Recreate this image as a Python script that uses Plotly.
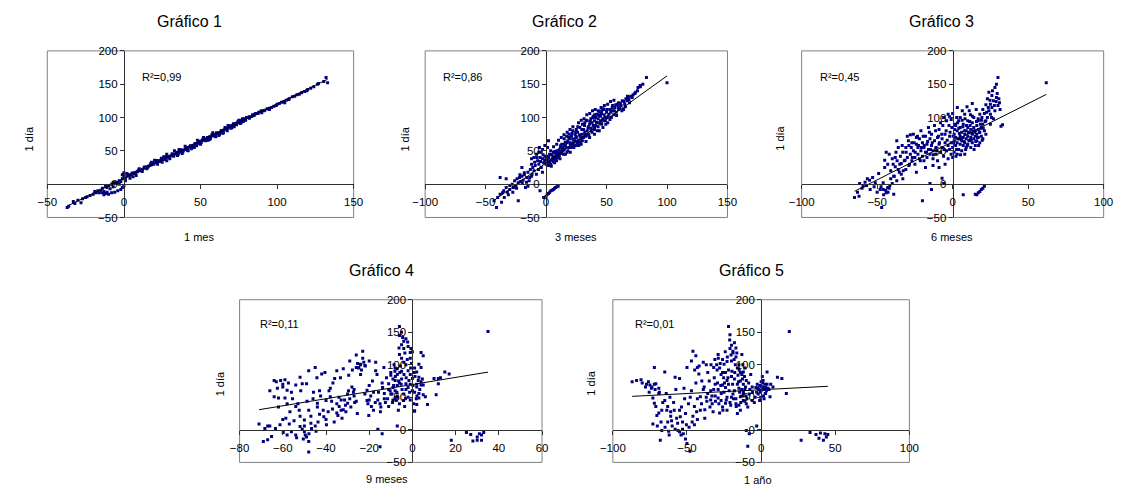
import plotly.graph_objects as go

# ---------------- DATA ----------------
titles = ["Gráfico 1", "Gráfico 2", "Gráfico 3", "Gráfico 4", "Gráfico 5"]
x_titles = ["1 mes", "3 meses", "6 meses", "9 meses", "1 año"]
y_title = "1 día"
r2_labels = ["0,99", "0,86", "0,45", "0,11", "0,01"]
x_ranges = [[-50, 150], [-100, 150], [-100, 100], [-80, 60], [-100, 100]]
x_ticks = [[-50, 0, 50, 100, 150], [-100, -50, 0, 50, 100, 150], [-100, -50, 0, 50, 100],
           [-80, -60, -40, -20, 0, 20, 40, 60], [-100, -50, 0, 50, 100]]
y_range = [-50, 200]
y_ticks = [-50, 0, 50, 100, 150, 200]
trend_slope = [1.12, 1.307, 1.145, 0.545, 0.117]
trend_intercept = [8.5, 31.8, 63.7, 69.7, 61.7]

g1_points = [
    (-37, -35), (-33, -26), (-30, -24), (-28, -28), (-25, -20), (-22, -17), (-20, -15), (-18, -13),
    (-17, -10), (-15, -9), (-14, -6), (-13, -11), (-12, -3), (-11, -5), (-10, -2), (-9, -7), (-8, 0),
    (-7, -4), (-6, 2), (-5, 1), (-4, 3), (-3, 5), (-2, 4), (-1, 8), (0, 10), (0, 14), (1, 9), (-1, 14),
    (-14, -13), (-13, -16), (-12, -14), (-10, -15), (-8, -13), (-6, -12), (-4, -10), (-2, -8), (-1, -5),
    (0, -3), (-11, -12),
    (2, 12), (3, 14), (4, 13), (5, 15), (6, 16), (7, 17), (8, 18), (9, 19), (10, 20), (11, 21), (12, 22),
    (13, 24), (14, 25), (15, 26), (16, 27), (17, 28), (18, 29), (19, 31), (20, 32), (21, 33), (22, 34),
    (23, 35), (24, 36), (25, 37), (26, 38), (27, 39), (28, 40), (29, 40), (30, 42), (31, 43), (32, 44),
    (33, 45), (34, 46), (35, 47), (36, 48), (37, 49), (38, 50), (39, 51), (40, 52), (41, 53), (42, 55),
    (43, 56), (44, 57), (45, 58), (46, 59), (47, 60), (48, 61), (49, 63), (50, 64), (51, 65), (52, 66),
    (53, 67), (54, 68), (55, 70), (56, 71), (57, 72), (58, 73), (59, 74), (60, 75), (61, 76), (62, 77),
    (63, 78), (64, 80), (65, 81), (66, 82), (67, 83), (68, 84), (69, 86), (70, 87), (71, 88), (72, 90),
    (73, 91), (74, 92), (75, 93), (76, 95), (77, 96), (78, 97), (79, 98), (80, 100), (82, 101), (84, 104),
    (86, 106), (88, 108), (90, 110), (92, 111), (95, 114), (98, 117), (100, 120), (103, 123), (106, 126),
    (110, 131), (113, 134), (116, 137), (120, 142), (124, 146), (127, 151), (132, 160), (133, 152),
    (20, 36), (22, 30), (25, 33), (28, 45), (30, 38), (35, 43), (40, 57), (42, 50), (45, 55), (48, 66),
    (50, 60), (55, 66), (58, 77), (60, 71), (65, 77), (68, 88), (70, 84), (75, 96), (78, 94), (85, 103),
    (90, 107), (28, 35), (33, 50), (38, 46), (44, 53), (52, 70), (62, 73), (72, 86), (15, 23), (18, 33),
    (10, 23), (12, 19), (26, 41), (36, 52), (46, 55), (56, 67), (66, 85), (76, 91), (82, 99), (95, 112),
    (105, 122), (108, 128), (118, 139), (122, 144),
    (3.5, 13.5), (5.5, 16.8), (7.5, 16.5), (9.5, 21), (11.5, 20.5), (13.5, 25.8), (15.5, 25), (17.5, 30.5),
    (19.5, 30), (21.5, 35.5), (23.5, 34), (24.5, 39), (26.5, 37), (27.5, 41.5), (29.5, 41), (31.5, 45.5),
    (32.5, 42), (34.5, 48), (35.5, 45), (37.5, 51.5), (38.5, 48), (40.5, 54.5), (41.5, 51), (43.5, 57.5),
    (44.5, 54.5), (46.5, 61), (47.5, 57.5), (49.5, 64.5), (50.5, 62), (51.5, 67.5), (53.5, 65), (54.5, 70),
    (56.5, 68.5), (57.5, 74), (59.5, 71.5), (60.5, 77), (62.5, 75), (63.5, 80), (64.5, 76.5), (66.5, 83.5),
    (67.5, 80), (69.5, 87.5), (70.5, 85), (71.5, 90.5), (73.5, 89), (74.5, 94), (76.5, 92), (77.5, 98),
    (79.5, 96), (81.5, 100.5), (83.5, 101.5), (85.5, 105), (87.5, 106), (89.5, 109.5), (91.5, 110),
    (93.5, 113), (96.5, 115), (99.5, 118), (101.5, 121), (104.5, 124), (107.5, 127), (111.5, 132),
    (114.5, 135), (119.5, 140), (126.5, 150), (130.5, 154), (-36, -33), (-32, -29), (-27, -22), (-24, -19),
    (-19, -11), (-16, -13), (-7, 2), (-3, 0), (1, 5), (0, 17), (2, 16), (4, 9), (6, 11), (8, 13),
]

g2_points = [
    (-41, -35), (-43, -25), (-40, -20), (-38, -15), (-36, -13), (-35, -10), (-33, -5), (-32, -12),
    (-30, -8), (-30, -2), (-28, 0), (-27, -5), (-26, 5), (-25, -3), (-24, 8), (-23, 2), (-22, 10),
    (-21, 4), (-20, 12), (-19, 6), (-18, 14), (-17, -5), (-16, 10), (-15, 18), (-14, 5), (-13, 22),
    (-12, 12), (-11, 25), (-10, 20), (-9, 28), (-8, 15), (-7, 35), (-6, 30), (-5, 40), (-4, 25),
    (-3, 38), (-2, 32), (-1, 42), (-8, 45), (-10, 40), (-12, 38), (-6, 48), (-15, -3), (-5, -10),
    (-38, 10), (-33, 8), (-23, -25), (-18, 17), (-20, 25), (-12, 30), (-4, 48), (-3, 18), (-1, 35),
    (2, 65), (-1, 58),
    (0, 30), (0, 38), (1, 35), (1, 42), (2, 28), (2, 40), (3, 33), (3, 45), (4, 36), (4, 30), (5, 38),
    (5, 44), (6, 34), (6, 48), (7, 40), (7, 32), (8, 45), (8, 38), (9, 42), (9, 50), (10, 40), (10, 47),
    (11, 44), (11, 52), (12, 48), (12, 56), (13, 46), (13, 60), (14, 50), (14, 55),
    (15, 52), (15, 60), (15, 68), (16, 45), (16, 58), (17, 62), (17, 72), (18, 50), (18, 65), (19, 55),
    (19, 75), (20, 60), (20, 68), (20, 48), (21, 58), (21, 72), (22, 62), (22, 80), (23, 55), (23, 68),
    (24, 65), (24, 75), (25, 58), (25, 70), (25, 82), (26, 62), (26, 78), (27, 66), (27, 58), (28, 72),
    (28, 85), (29, 68), (29, 60), (30, 75), (30, 90), (30, 65),
    (31, 70), (31, 82), (32, 78), (32, 92), (33, 72), (33, 64), (34, 80), (34, 95), (35, 75), (35, 86),
    (36, 90), (36, 70), (37, 84), (37, 98), (38, 78), (38, 92), (39, 88), (39, 102), (40, 82), (40, 95),
    (40, 75), (41, 100), (41, 88), (42, 92), (42, 105), (43, 86), (43, 98), (44, 108), (44, 80), (45, 95),
    (45, 102),
    (46, 90), (46, 110), (47, 98), (47, 85), (48, 104), (48, 112), (49, 95), (50, 100), (50, 108), (51, 92),
    (52, 105), (53, 112), (54, 100), (55, 110), (55, 118), (56, 104), (57, 115), (58, 108), (59, 120),
    (60, 112), (60, 122),
    (61, 115), (62, 118), (63, 125), (64, 112), (65, 120), (66, 128), (67, 125), (68, 130), (69, 122),
    (70, 132), (72, 134), (74, 138), (76, 145), (78, 146), (80, 150), (83, 160), (100, 152),
    (0, -18), (1, -15), (2, -14), (3, -12), (4, -10), (5, -9), (6, -8), (7, -6), (8, -5), (9, -4),
    (10, -3), (-2, -20),
    (0.5, 33), (1.7, 39), (2.4, 31), (3.6, 44), (4.3, 27), (5.8, 41), (6.5, 37), (7.2, 49), (8.6, 35),
    (9.3, 46), (10.8, 43), (11.5, 38), (12.2, 58), (13.7, 52), (14.4, 45), (15.9, 63), (16.6, 55),
    (17.3, 48), (18.8, 70), (19.5, 62), (20.7, 55), (21.4, 76), (22.6, 67), (23.3, 59), (24.8, 72),
    (25.5, 64), (26.2, 86), (27.7, 74), (28.4, 63), (29.6, 82), (30.3, 70), (31.8, 88), (32.5, 75),
    (33.2, 96), (34.7, 84), (35.4, 73), (36.6, 94), (37.3, 80), (38.8, 100), (39.5, 84), (40.2, 104),
    (41.7, 93), (42.4, 80), (43.6, 103), (44.3, 92), (45.8, 106), (46.5, 96), (47.2, 113), (48.7, 100),
    (49.4, 90), (50.6, 112), (51.3, 102), (52.8, 97), (53.5, 108), (54.7, 115), (56.4, 110), (57.6, 119),
    (58.3, 103), (59.8, 116), (61.5, 121), (62.7, 110), (64.4, 124), (65.6, 116), (67.3, 132), (68.5, 127),
    (71.2, 130), (73.4, 136), (75.6, 140), (77.8, 148), (-0.8, 36), (-2.5, 44), (-4.6, 34), (-6.3, 22),
    (-7.7, 40), (-9.4, 33), (-11.6, 15), (-13.5, 10), (-16.2, 3), (-19.7, 1), (-21.6, 14), (-24.4, -6),
    (-27.5, -12), (-31.2, -16), (-34.6, -20), (-36.8, -27), (-2.9, 52), (-5.5, 55), (1.2, 55), (3.8, 50),
    (6.2, 56), (8.8, 60), (10.3, 66), (12.6, 70), (14.8, 74), (17.5, 78), (19.8, 82), (22.2, 86),
    (24.5, 78), (26.8, 92), (29.1, 96), (31.4, 98), (33.7, 104), (36.1, 106), (38.4, 110), (40.7, 112),
    (43.2, 110), (45.5, 115), (48.2, 118), (50.9, 120), (53.3, 124), (56.1, 126),
]

g3_points = [
    (-65, -20), (-63, -12), (-62, -18), (-60, -6), (-58, 3), (-57, -2), (-55, 6), (-53, 10), (-52, -4),
    (-50, -12), (-49, 16), (-48, -8), (-47, -35), (-46, -8), (-46, 2), (-45, 36), (-45, 25), (-44, -13),
    (-44, 48), (-43, -5), (-43, 30), (-42, 45), (-42, -6), (-41, 20), (-41, 8), (-40, 1), (-40, 38),
    (-39, -15), (-39, 12), (-38, 40), (-38, 26), (-37, 65), (-37, 5), (-36, 55), (-36, 22),
    (-35, 30), (-34, 31), (-34, 15), (-33, 48), (-33, 8), (-32, 35), (-31, 55), (-31, 22), (-30, 72),
    (-30, 40), (-29, 28), (-29, 58), (-28, 45), (-28, 74), (-27, 35), (-27, 62), (-26, 75), (-26, 50),
    (-25, 40), (-25, 30), (-24, 60), (-24, 70), (-23, 45), (-23, 55), (-22, 38), (-22, 68), (-21, 50),
    (-21, 80), (-20, -25), (-20, 42), (-20, 62),
    (-19, 55), (-19, 35), (-18, 72), (-18, 48), (-17, 60), (-17, 40), (-16, 85), (-16, 52), (-15, 1),
    (-15, 45), (-15, 68), (-14, -8), (-14, 58), (-14, 75), (-13, 50), (-13, 38), (-12, 65), (-12, 88),
    (-11, 45), (-11, 55), (-10, 70), (-10, 35), (-9, 60), (-9, 82), (-8, 48), (-8, 92), (-7, 9), (-7, 55),
    (-7, 68), (-6, 1), (-6, 100), (-6, 42), (-5, 62), (-5, 75), (-4, 50), (-4, 95), (-3, 58), (-3, 105),
    (-3, 38), (-2, 72), (-2, 101), (-1, 97), (-1, 45), (-1, 62),
    (0, 55), (0, 106), (0, 40), (1, 65), (1, 75), (1, 48), (2, 70), (2, 58), (2, 88), (3, 62), (3, 80),
    (3, 45), (4, 68), (4, 95), (4, 52), (5, 72), (5, 60), (5, 85), (5, 100), (6, 65), (6, 78), (6, 50),
    (7, -16), (7, 70), (7, 90), (7, 58), (8, 75), (8, 62), (8, 105), (8, 45), (9, 80), (9, 68), (9, 55),
    (10, 72), (10, 95), (10, 60), (10, 85), (11, 78), (11, 65), (11, 110), (12, 70), (12, 82), (12, 55),
    (13, 121), (13, 75), (13, 92), (13, 62), (14, 68), (14, 85), (14, 100), (15, 72), (15, 80), (15, 58),
    (15, -15), (16, -16), (16, 88), (16, 65), (16, 75), (17, -13), (17, 70), (17, 95), (17, 82), (18, -11),
    (18, 78), (18, 62), (18, 105), (19, -8), (19, 85), (19, 72), (20, -6), (20, 90), (20, 68), (20, 112),
    (21, -3), (21, 106), (21, 80), (22, 95), (22, 119), (22, 75),
    (23, 128), (23, 100), (24, 138), (24, 110), (25, 105), (25, 120), (25, 90), (26, 133), (26, 115),
    (27, 125), (27, 98), (28, 145), (28, 110), (29, 130), (29, 150), (30, 160), (30, 118), (31, 122),
    (32, 87), (33, 89), (62, 152),
    (0.7, 62), (1.4, 82), (2.6, 52), (3.3, 92), (4.5, 76), (5.2, 44), (6.8, 86), (7.5, 64), (8.2, 98),
    (9.7, 58), (10.4, 77), (11.6, 88), (12.3, 66), (13.5, 80), (14.2, 52), (15.8, 94), (16.5, 70),
    (17.7, 78), (18.4, 90), (19.6, 66), (20.3, 84), (21.5, 94), (0.3, 72), (1.9, 90), (2.2, 42), (3.8, 68),
    (4.1, 84), (5.7, 67), (6.3, 96), (7.9, 80), (8.6, 52), (9.2, 88), (10.8, 66), (11.3, 94), (12.9, 76),
    (13.1, 102), (14.7, 78), (15.3, 64), (16.9, 98), (17.2, 58), (18.8, 84), (19.1, 96), (3.1, 115),
    (6.4, 110), (9.5, 116), (15.6, 112), (19.4, 100), (11.8, 104), (2.7, 100), (-0.5, 85), (-1.7, 78),
    (-2.4, 88), (-3.6, 66), (-4.3, 80), (-5.8, 52), (-6.5, 88), (-7.2, 75), (-8.7, 62), (-9.4, 72),
    (-10.6, 50), (-11.3, 80), (-12.8, 44), (-13.5, 62), (-14.7, 52), (-15.4, 78), (-16.6, 64), (-17.3, 48),
    (-18.8, 58), (-19.5, 72), (-20.7, 55), (-21.4, 35), (-22.6, 58), (-23.3, 72), (-24.8, 48), (-25.5, 62),
    (-26.7, 40), (-27.4, 55), (-28.6, 30), (-29.3, 65), (-30.8, 48), (-31.5, 36), (-32.7, 20), (-33.4, 58),
    (-34.6, 42), (-35.3, 18), (-36.8, 35), (-37.5, 48), (-38.7, 12), (-39.4, 30), (-41.6, -2), (-42.8, -12),
    (-44.3, -9), (-45.7, -16), (-47.4, -4), (-51.2, 2), (-54.6, -8), (-56.5, 8), (-59.3, -3), (-61.6, 1),
    (-13, 28), (-9, 25), (-5, 30), (-2, 52), (-18, 25), (-24, 18), (23.6, 115), (24.7, 126), (26.4, 140),
    (27.6, 118), (29.5, 136), (28.8, 124), (25.8, 100), (22.5, 108), (30.6, 128), (31.4, 112),
]

g4_points = [
    (-71, 9), (-69, -18), (-67, -15), (-67, 6), (-66, 6), (-64, 51), (-63, 74), (-61, 76), (-59, 77),
    (-60, 66), (-58, 61), (-62, 49), (-59, 49), (-60, 16), (-57, 9), (-56, -3), (-58, -8), (-54, 69),
    (-52, 81), (-51, 71), (-49, 71), (-48, 91), (-45, 96), (-54, 36), (-52, 21), (-51, 1), (-50, -3),
    (-49, -11), (-48, -18), (-48, -34), (-50, 6), (-47, 21), (-45, 6), (-44, 41), (-42, 86), (-43, 24),
    (-40, 16), (-38, 51), (-38, 64), (-35, 91), (-36, 79), (-33, 46), (-32, 31), (-35, 26), (-32, 94),
    (-30, 41), (-29, 106), (-28, 66), (-26, 96), (-26, 44), (-24, 101), (-23, 121), (-22, 99), (-21, 61),
    (-20, 46), (-20, 106), (-19, 36), (-17, 104), (-17, 91), (-16, 46), (-16, 1), (-15, -26), (-14, -6),
    (-13, 56), (-11, 71), (-11, 36), (-10, 84), (-9, 46), (-8, 49), (-8, 76), (-7, 6), (-7, 94), (-6, 116),
    (-6, 159), (-5, 131), (-4, 104), (-4, 136), (-3, 71), (-2, 91), (-1, 119), (-1, 46), (0, 79), (1, 29),
    (2, 89), (3, 56), (4, 69), (5, 54),
    (35, 151), (4, 119), (5, 114), (3, 101), (4, 96), (3, 81), (4, 74), (5, 69), (2, 66), (6, 51), (3, 49),
    (2, 39), (1, 29), (10, 79), (12, 79), (12, 71), (11, 54), (13, 80), (15, 89), (17, 86), (7, 39),
    (18, -16), (25, -4), (27, -7), (28, -17), (30, -11), (30, -16), (31, -6), (32, -8), (33, -4), (32, -16),
    (-8, 60), (-7, 85), (-6, 72), (-5, 90), (-4, 55), (-3, 100), (-2, 65), (-1, 85), (0, 60), (1, 95),
    (2, 70), (-9, 78), (-8, 95), (-5, 110), (-4, 125), (-3, 140), (-2, 128), (-1, 110), (0, 120),
    (-6, 145), (-5, 150), (-7, 68), (-10, 88), (-12, 80), (-11, 62), (-14, 72), (-13, 48), (-18, 58),
    (-20, 68), (-22, 55), (-24, 100), (-25, 95), (-23, 110), (-26, 115), (-24, 85), (-27, 62), (-29, 48),
    (-31, 38), (-33, 30), (-35, 40), (-37, 32), (-39, 28), (-41, 20), (-44, 35), (-46, 48), (-48, 30),
    (-50, 15), (-52, 5), (-54, -8), (-56, 58), (-58, 40), (-60, 70), (-62, 35), (-64, 76), (-66, 60),
    (-9, 65), (-7, 52), (-5, 78), (-3, 62), (-1, 70), (1, 58), (-2, 50), (-6, 40), (-10, 55), (-15, 40),
    (-18, 30), (-21, 45), (-27, 52), (-30, 55), (-34, 50), (-40, 45), (-43, 60), (-47, 10), (-53, 40),
    (-9.5, 55), (-8.7, 68), (-7.9, 82), (-7.2, 58), (-6.4, 75), (-5.6, 98), (-4.8, 62), (-3.9, 85),
    (-3.2, 48), (-2.4, 108), (-1.6, 76), (-0.8, 95), (0.3, 68), (1.2, 82), (2.1, 52), (3.4, 62), (4.6, 78),
    (-9.2, 42), (-8.1, 90), (-6.8, 50), (-5.2, 70), (-4.1, 45), (-2.9, 80), (-1.3, 58), (-0.4, 102),
    (0.8, 88), (1.8, 48), (2.7, 76), (-8.5, 100), (-6.2, 126), (-4.5, 142), (-3.5, 118), (-2.2, 135),
    (-0.7, 125), (-5.8, 88), (-7.5, 45), (-12.5, 42), (-13.8, 65), (-14.6, 35), (-15.7, 58), (-17.2, 42),
    (-18.5, 75), (-19.3, 52), (-20.6, 40), (-21.8, 98), (-22.5, 104), (-23.6, 92), (-24.8, 96),
    (-25.4, 102), (-26.7, 42), (-27.3, 58), (-28.5, 35), (-29.6, 60), (-30.8, 28), (-31.4, 46),
    (-32.6, 18), (-33.9, 36), (-34.5, 22), (-36.2, 12), (-37.4, 44), (-38.6, 60), (-39.8, 8), (-41.3, 30),
    (-42.5, 52), (-43.7, 12), (-44.6, -2), (-45.8, 58), (-46.7, 2), (-47.9, -6), (-48.8, 44), (-49.6, -8),
    (-50.5, -14), (-51.7, 60), (-52.4, 30), (-53.6, -12), (-54.8, 14), (-55.5, 48), (-56.7, 28),
    (-57.4, 72), (-58.6, 18), (-59.8, -4), (-61.3, 8), (-62.5, 64), (-63.4, 2), (-65.2, -10), (-68.3, 2),
    (-44.2, 80), (-40.5, 88), (-36.8, 72), (-33.3, 80), (-29.5, 84), (-27.8, 92), (-16.4, 85), (-13.2, 96),
    (-11.5, 48), (-10.3, 60), (-14.8, 28), (-20.2, 22), (-25.5, 25), (-6.5, 30), (-3.6, 36), (0.6, 40),
]

g5_points = [
    (-87, 74), (-84, 76), (-81, 77), (-78, 66), (-76, 74), (-75, 69), (-74, 64), (-72, 96), (-71, 71),
    (-69, 56), (-73, 49), (-72, 41), (-71, 36), (-69, 26), (-73, 9), (-70, 6), (-67, -1), (-68, -16),
    (-65, 89), (-64, 56), (-63, 36), (-61, 21), (-60, 6), (-62, -8), (-58, 1), (-56, -1), (-55, -3),
    (-54, -8), (-53, 1), (-51, -14), (-48, -33), (-50, -21), (-58, 81), (-55, 79), (-52, 64), (-50, 96),
    (-47, 106), (-46, 121), (-44, 114), (-43, 96), (-42, 86), (-41, 51), (-45, 36), (-46, 21), (-43, 16),
    (-39, 104), (-36, 56), (-38, 31), (-34, 46), (-32, 96), (-29, 116), (-29, 49), (-28, 26), (-26, 69),
    (-25, 101), (-24, 41), (-23, 76), (-22, 159), (-21, 146), (-20, 106), (-19, 121), (-18, 134),
    (-17, 126), (-15, 64), (-14, 51), (-13, 116), (-12, 89), (-11, 44), (-10, 76), (-10, -1), (-9, -25),
    (-8, -6), (-6, 66), (-3, 6), (-2, 64), (0, 74), (1, 66), (3, 56), (4, 89), (6, 51), (8, 66), (11, 81),
    (14, 79), (17, 56), (19, 151),
    (27, -16), (33, -4), (37, -7), (40, -5), (42, -16), (44, -11), (43, -6), (39, -13), (45, -7),
    (-30, 100), (-28, 95), (-26, 108), (-24, 88), (-22, 70), (-20, 82), (-18, 60), (-16, 95), (-14, 75),
    (-12, 45), (-11, 62), (-10, 40), (-15, 38), (-17, 48), (-19, 55), (-21, 42), (-23, 50), (-25, 58),
    (-27, 45), (-29, 62), (-31, 52), (-33, 40), (-35, 75), (-37, 100), (-39, 62), (-41, 30), (-43, 48),
    (-45, 8), (-47, 60), (-49, 40), (-51, 25), (-53, 12), (-55, 30), (-57, 18), (-59, 42), (-61, 28),
    (-63, 12), (-65, 45), (-67, 30), (-69, 64), (-72, 70), (-2, 55), (-1, 68), (0, 60), (1, 72), (2, 62),
    (3, 65), (-3, 58), (-4, 50), (-1, 45), (2, 48), (4, 70), (-20, 130), (-19, 118), (-17, 112),
    (-15, 100), (-13, 85), (-21, 125), (-22, 92), (-12, 70), (-8, 55), (-7, 85), (-6, 45), (-9, 35),
    (-14, 30), (-16, 25), (-18, 78), (-16, 70), (-14, 88), (-12, 58), (-24, 65), (-26, 35), (-20, 50),
    (-17, 40), (-13, 52), (-11, 95), (-23, 105), (-27, 85), (-31, 70), (-34, 60), (-37, 50), (-40, 75),
    (-34.5, 35), (-33.2, 52), (-32.4, 28), (-31.6, 80), (-30.8, 44), (-29.7, 92), (-28.5, 40), (-27.6, 102),
    (-26.9, 56), (-25.8, 30), (-24.7, 72), (-23.5, 46), (-22.8, 112), (-21.6, 60), (-20.5, 38), (-19.7, 90),
    (-18.6, 48), (-17.4, 100), (-16.8, 36), (-15.6, 84), (-14.5, 58), (-13.7, 42), (-12.6, 78), (-11.8, 55),
    (-10.5, 66), (-9.6, 48), (-8.4, 72), (-7.6, 62), (-33.8, 100), (-31.2, 108), (-28.9, 110), (-24.2, 120),
    (-21.2, 138), (-20.3, 115), (-18.2, 108), (-16.4, 118), (-14.8, 92), (-12.3, 100), (-25.3, 80),
    (-27.2, 68), (-29.4, 72), (-22.4, 80), (-19.2, 70), (-17.8, 88), (-15.2, 74), (-13.1, 62), (-11.2, 82),
    (-10.2, 52), (-36.6, 44), (-38.4, 66), (-40.2, 40), (-41.8, 98), (-43.5, 28), (-44.8, 92), (-46.5, 12),
    (-47.8, 50), (-48.6, 4), (-50.4, 8), (-51.6, 48), (-52.5, -6), (-53.7, 35), (-54.5, 20), (-56.3, 10),
    (-57.5, 62), (-58.6, 30), (-60.4, 14), (-61.5, 50), (-62.4, -2), (-63.6, 30), (-64.8, 4), (-66.3, 42),
    (-67.5, 12), (-68.6, 58), (-70.3, 22), (-71.5, 62), (-73.6, 66), (-75.5, 58), (-77.3, 70), (-80.2, 72),
    (-1.5, 62), (-0.6, 58), (0.4, 66), (1.6, 52), (2.5, 70), (3.6, 60), (4.7, 64), (-2.6, 70), (-0.3, 50),
    (1.3, 76), (2.8, 56), (5.3, 62), (-3.5, 65), (-4.6, 42), (-5.8, 58), (6.5, 70), (0.8, 82), (-44, 72),
    (-36, 88), (-38, 18), (-32, 62), (-26, 88), (-23, 30),
]

all_points = [g1_points, g2_points, g3_points, g4_points, g5_points]

# ---------------- LAYOUT GEOMETRY (pixels -> paper fractions) ----------------
W, H = 1131, 497
x_domains = [[35, 347.7], [420.7, 729.3], [805, 1113.3], [231.3, 540], [612.3, 915]]
y_domains = [[46, 216.7], [46, 216.7], [46, 216.7], [301, 467.7], [301, 467.7]]
title_pos = [(180, 16), (563, 16), (948, 16), (376, 271), (754, 271)]
xtitle_pos = [(190, 237), (575, 237), (959, 237), (382, 485), (760, 486)]
ytitle_pos = [(16, 136), (400, 136), (783, 136), (211, 387), (590, 387)]
r2_pos = [(130, 73), (437, 73), (822, 73), (250, 326), (633, 326)]

FONT = "Liberation Sans, Arial, sans-serif"
NAVY = "#000080"

fig = go.Figure()
layout = dict(
    width=W, height=H, margin=dict(l=0, r=0, t=0, b=0, pad=0),
    paper_bgcolor="white", plot_bgcolor="white", showlegend=False,
    font=dict(family=FONT, size=11, color="black"),
)
annotations = []
shapes = []

for i in range(5):
    n = i + 1
    xs = [p[0] for p in all_points[i]]
    ys = [p[1] for p in all_points[i]]
    xa = "x" if n == 1 else f"x{n}"
    ya = "y" if n == 1 else f"y{n}"
    fig.add_trace(go.Scatter(x=xs, y=ys, mode="markers", xaxis=xa, yaxis=ya,
                             marker=dict(symbol="square", size=3, color=NAVY, line=dict(width=0)),
                             hoverinfo="x+y"))
    lo, hi = min(xs), max(xs)
    fig.add_trace(go.Scatter(x=[lo, hi],
                             y=[trend_slope[i] * lo + trend_intercept[i], trend_slope[i] * hi + trend_intercept[i]],
                             mode="lines", xaxis=xa, yaxis=ya, line=dict(color="black", width=1),
                             hoverinfo="skip"))
    xd = [x_domains[i][0] / W, x_domains[i][1] / W]
    yd = [1 - y_domains[i][1] / H, 1 - y_domains[i][0] / H]
    xr = x_ranges[i]
    ypos = yd[0] + (0 - y_range[0]) / (y_range[1] - y_range[0]) * (yd[1] - yd[0])
    xpos = xd[0] + (0 - xr[0]) / (xr[1] - xr[0]) * (xd[1] - xd[0])
    axis_common = dict(showgrid=False, zeroline=False, showline=True, linecolor="#303030", linewidth=1,
                       ticks="outside", ticklen=4, tickcolor="#303030", tickwidth=1,
                       tickfont=dict(family=FONT, size=11.5, color="black"), fixedrange=True)
    layout[("xaxis" if n == 1 else f"xaxis{n}")] = dict(
        axis_common, domain=xd, range=xr, tickvals=x_ticks[i], anchor="free", position=ypos,
        ticklabelstandoff=3)
    layout[("yaxis" if n == 1 else f"yaxis{n}")] = dict(
        axis_common, domain=yd, range=y_range, tickvals=y_ticks, anchor="free", position=xpos)
    shapes.append(dict(type="rect", xref=f"{xa} domain", yref=f"{ya} domain", x0=0, x1=1, y0=0, y1=1,
                       line=dict(color="#808080", width=1), layer="below"))
    annotations.append(dict(text=titles[i], x=title_pos[i][0] / W, y=1 - title_pos[i][1] / H,
                            xref="paper", yref="paper", showarrow=False, xanchor="center", yanchor="middle",
                            font=dict(family=FONT, size=16, color="black")))
    annotations.append(dict(text=x_titles[i], x=xtitle_pos[i][0] / W, y=1 - xtitle_pos[i][1] / H,
                            xref="paper", yref="paper", showarrow=False, xanchor="center", yanchor="middle",
                            font=dict(family=FONT, size=11, color="black")))
    annotations.append(dict(text=y_title, x=ytitle_pos[i][0] / W, y=1 - ytitle_pos[i][1] / H,
                            xref="paper", yref="paper", showarrow=False, xanchor="center", yanchor="middle",
                            textangle=-90, font=dict(family=FONT, size=11, color="black")))
    annotations.append(dict(text="R²=" + r2_labels[i], x=r2_pos[i][0] / W, y=1 - r2_pos[i][1] / H,
                            xref="paper", yref="paper", showarrow=False, xanchor="left", yanchor="middle",
                            font=dict(family=FONT, size=11, color="black")))

layout["annotations"] = annotations
layout["shapes"] = shapes
fig.update_layout(**layout)
fig.write_html("out.html", config={"displayModeBar": False},
               post_script="document.body.style.margin='0';document.body.style.overflow='hidden';")
